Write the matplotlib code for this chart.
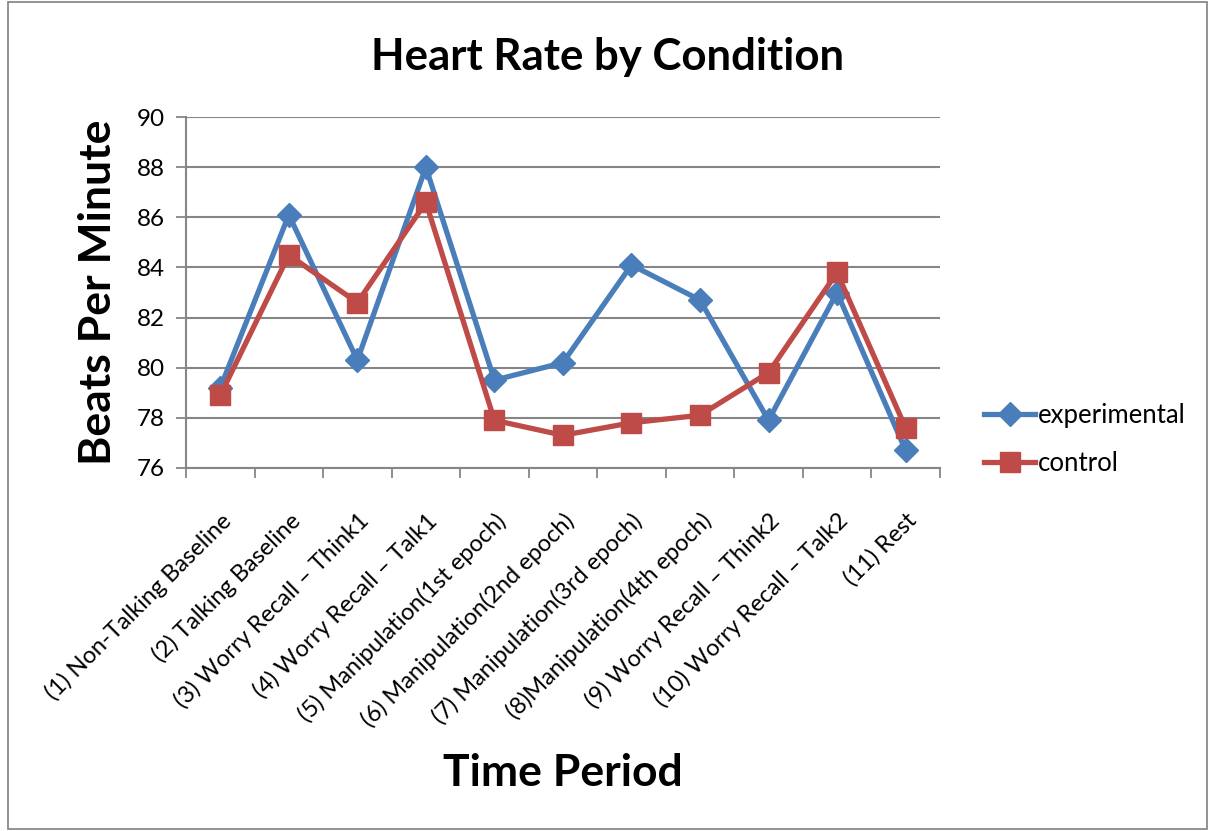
import numpy as np
import matplotlib
matplotlib.use('Agg')
import matplotlib.pyplot as plt
from matplotlib.patches import Rectangle

plt.rcParams['font.family'] = ['Lato', 'DejaVu Sans']

periods = ['(1) Non-Talking Baseline', '(2) Talking Baseline', '(3) Worry Recall \u2013 Think1',
           '(4) Worry Recall \u2013 Talk1', '(5) Manipulation(1st epoch)', '(6) Manipulation(2nd epoch)',
           '(7) Manipulation(3rd epoch)', '(8)Manipulation(4th epoch)', '(9) Worry Recall \u2013 Think2',
           '(10) Worry Recall \u2013 Talk2', '(11) Rest']
experimental = [79.2, 86.1, 80.3, 88.0, 79.5, 80.2, 84.1, 82.7, 77.9, 83.0, 76.7]
control = [78.9, 84.5, 82.6, 86.6, 77.9, 77.3, 77.8, 78.1, 79.8, 83.8, 77.6]
yticks = [76, 78, 80, 82, 84, 86, 88, 90]

blue = '#4A7EBB'
red = '#BE4B48'
grid = '#868686'

fig = plt.figure(figsize=(12.08, 8.31), dpi=100, facecolor='white')
ax = fig.add_axes([0.154, 0.437, 0.624, 0.422])
x = np.arange(len(periods))

ax.plot(x, experimental, color=blue, lw=3.8, marker='D', ms=12, label='experimental', zorder=3)
ax.plot(x, control, color=red, lw=3.8, marker='s', ms=14, label='control', zorder=4)

ax.set_xlim(-0.5, len(periods) - 0.5)
ax.set_ylim(76, 90)
ax.set_yticks(yticks)
ax.set_yticklabels([str(v) for v in yticks], fontsize=17.5)
ax.yaxis.grid(True, color=grid, lw=1.5)
ax.set_axisbelow(True)

# category boundaries as ticks, labels at category centers
ax.set_xticks(np.arange(-0.5, len(periods), 1.0))
ax.set_xticklabels([])
ax.set_xticks(x, minor=True)
ax.set_xticklabels(periods, minor=True, rotation=45, ha='right', rotation_mode='anchor', fontsize=17)
ax.tick_params(axis='x', which='minor', length=0, pad=30)
ax.tick_params(axis='x', which='major', length=7, color=grid, width=1.3)
ax.tick_params(axis='y', length=7, color=grid, width=1.3, pad=8)

for s in ['top', 'right']:
    ax.spines[s].set_visible(False)
for s in ['left', 'bottom']:
    ax.spines[s].set_color(grid)
    ax.spines[s].set_linewidth(1.5)

ax.set_ylabel('Beats Per Minute', fontsize=32, fontweight='bold', labelpad=14)
fig.text(0.466, 0.07, 'Time Period', fontsize=32, fontweight='bold', ha='center', va='center')
fig.text(0.503, 0.932, 'Heart Rate by Condition', fontsize=31.5, fontweight='bold', ha='center', va='center')

ax.legend(loc='center left', bbox_to_anchor=(1.045, 0.08), frameon=False, fontsize=18.5,
          handlelength=2.0, labelspacing=0.9, handletextpad=0.1, borderaxespad=0.0)

fig.patches.append(Rectangle((0.007, 0.002), 0.992, 0.996, transform=fig.transFigure,
                             fill=False, edgecolor='#808080', lw=1.2))

fig.savefig('out.png', dpi=100, facecolor='white')
